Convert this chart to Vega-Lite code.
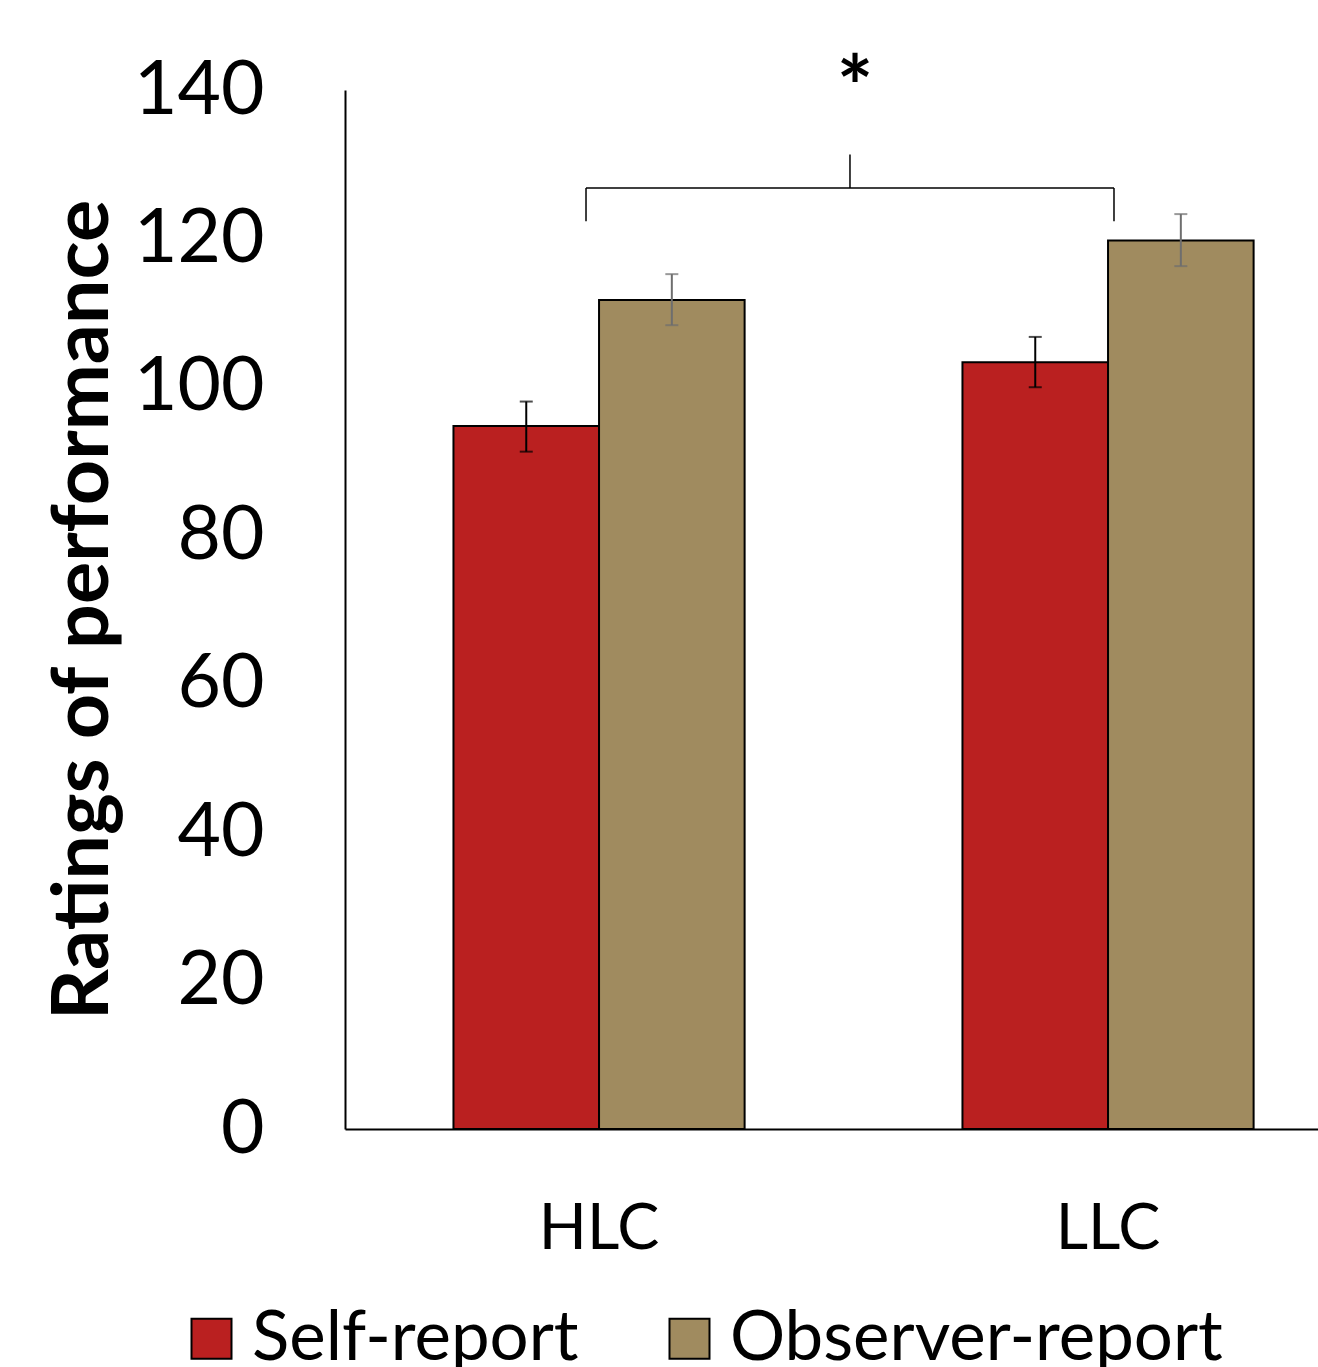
{
  "$schema": "https://vega.github.io/schema/vega-lite/v6.json",
  "width": 973,
  "height": 1039,
  "autosize": {"type": "none"},
  "padding": {"left": 345, "top": 90, "right": 0, "bottom": 238},
  "background": "white",
  "config": {
    "view": {"stroke": null},
    "font": "Lato"
  },
  "layer": [
    {
      "data": {
        "values": [
          {"group": "HLC", "series": "Self-report", "mean": 94.73, "lo": 91.27, "hi": 98.02},
          {"group": "HLC", "series": "Observer-report", "mean": 111.72, "lo": 108.31, "hi": 115.19},
          {"group": "LLC", "series": "Self-report", "mean": 103.32, "lo": 99.95, "hi": 106.73},
          {"group": "LLC", "series": "Observer-report", "mean": 119.73, "lo": 116.27, "hi": 123.28}
        ]
      },
      "encoding": {
        "x": {
          "field": "group",
          "type": "nominal",
          "sort": ["HLC", "LLC"],
          "scale": {"paddingInner": 0.428, "paddingOuter": 0.1698, "align": 0.6275},
          "axis": {
            "title": null,
            "labelAngle": 0,
            "labelFont": "Lato",
            "labelFontSize": 63,
            "labelColor": "black",
            "labelBaseline": "alphabetic",
            "labelPadding": 119,
            "ticks": false,
            "tickSize": 0,
            "domainColor": "black",
            "domainWidth": 2,
            "grid": false
          }
        },
        "xOffset": {
          "field": "series",
          "type": "nominal",
          "sort": ["Self-report", "Observer-report"],
          "scale": {"paddingInner": 0, "paddingOuter": 0}
        }
      },
      "layer": [
        {
          "mark": {"type": "bar", "stroke": "black", "strokeWidth": 2},
          "encoding": {
            "y": {
              "field": "mean",
              "type": "quantitative",
              "scale": {"domain": [0, 140], "nice": false},
              "axis": {
                "values": [0, 20, 40, 60, 80, 100, 120, 140],
                "title": "Ratings of performance",
                "titleFont": "Lato",
                "titleFontWeight": "bold",
                "titleFontSize": 79,
                "titleColor": "black",
                "titleX": -238,
                "titleY": 519.5,
                "titleAngle": -90,
                "titleAlign": "center",
                "titleBaseline": "alphabetic",
                "labelFont": "Lato",
                "labelFontSize": 75,
                "labelColor": "black",
                "labelPadding": 81,
                "ticks": false,
                "tickSize": 0,
                "grid": false,
                "domainColor": "black",
                "domainWidth": 2
              }
            },
            "color": {
              "field": "series",
              "type": "nominal",
              "sort": ["Self-report", "Observer-report"],
              "scale": {"domain": ["Self-report", "Observer-report"], "range": ["#BA2020", "#A08B5F"]},
              "legend": {
                "title": null,
                "orient": "none",
                "direction": "horizontal",
                "legendX": -168,
                "legendY": 1214,
                "padding": 0,
                "symbolType": "square",
                "symbolSize": 1600,
                "symbolStrokeColor": "black",
                "symbolStrokeWidth": 2,
                "symbolOpacity": 1,
                "labelFont": "Lato",
                "labelFontSize": 69,
                "labelColor": "black",
                "labelOffset": 6,
                "labelLimit": 1000,
                "columnPadding": 76
              }
            }
          }
        },
        {
          "mark": {"type": "rule", "strokeWidth": 2},
          "encoding": {
            "y": {"field": "lo", "type": "quantitative"},
            "y2": {"field": "hi"},
            "stroke": {
              "field": "series",
              "type": "nominal",
              "scale": {"domain": ["Self-report", "Observer-report"], "range": ["#000000", "#6E6E6E"]},
              "legend": null
            }
          }
        },
        {
          "mark": {"type": "tick", "size": 13, "thickness": 2},
          "encoding": {
            "y": {"field": "lo", "type": "quantitative"},
            "color": {
              "field": "series",
              "type": "nominal",
              "scale": {"domain": ["Self-report", "Observer-report"], "range": ["#000000", "#6E6E6E"]},
              "legend": null
            }
          }
        },
        {
          "mark": {"type": "tick", "size": 13, "thickness": 2},
          "encoding": {
            "y": {"field": "hi", "type": "quantitative"},
            "color": {
              "field": "series",
              "type": "nominal",
              "scale": {"domain": ["Self-report", "Observer-report"], "range": ["#000000", "#6E6E6E"]},
              "legend": null
            }
          }
        }
      ],
      "resolve": {"scale": {"color": "independent"}}
    },
    {
      "data": {
        "values": [
          {"part": "bar", "from": 0.9747, "to": 2.012, "ylo": 126.8, "yhi": 126.8},
          {"part": "left", "from": 0.9747, "to": 0.9747, "ylo": 122.3, "yhi": 126.8},
          {"part": "right", "from": 2.012, "to": 2.012, "ylo": 122.3, "yhi": 126.8},
          {"part": "center", "from": 1.4933, "to": 1.4933, "ylo": 126.8, "yhi": 131.3}
        ]
      },
      "mark": {"type": "rule", "stroke": "black", "strokeWidth": 1.5},
      "encoding": {
        "x": {"field": "from", "type": "quantitative", "scale": {"domain": [0.5012, 2.4128], "nice": false, "zero": false}, "axis": null},
        "x2": {"field": "to"},
        "y": {"field": "ylo", "type": "quantitative"},
        "y2": {"field": "yhi"}
      }
    },
    {
      "data": {"values": [{"label": "*", "pos": 1.5031, "yv": 142.0}]},
      "mark": {"type": "text", "font": "Lato", "fontWeight": "bold", "fontSize": 86, "baseline": "middle", "align": "center", "color": "black", "dy": 17},
      "encoding": {
        "x": {"field": "pos", "type": "quantitative", "scale": {"domain": [0.5012, 2.4128], "nice": false, "zero": false}, "axis": null},
        "y": {"field": "yv", "type": "quantitative"},
        "text": {"field": "label"}
      }
    }
  ],
  "resolve": {"scale": {"x": "independent", "color": "independent"}}
}
